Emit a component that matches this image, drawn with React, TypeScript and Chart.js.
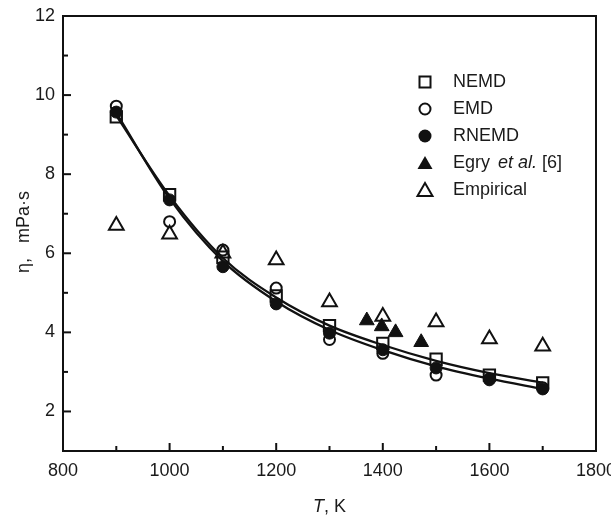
import React, { useEffect, useRef } from 'react';
import { Chart, registerables } from 'chart.js';

Chart.register(...registerables);

// ---- data ----
const temps = [900, 1000, 1100, 1200, 1300, 1400, 1500, 1600, 1700];
const nemd = [9.45, 7.48, 5.9, 4.92, 4.17, 3.72, 3.32, 2.92, 2.72];
const emd = [9.72, 6.8, 6.08, 5.12, 3.82, 3.47, 2.92, 2.82, 2.6];
const rnemd = [9.57, 7.35, 5.66, 4.72, 3.98, 3.56, 3.1, 2.8, 2.57];
const fitUpper = [9.48, 7.45, 5.88, 4.88, 4.17, 3.68, 3.28, 2.97, 2.73];
const fitLower = [9.55, 7.38, 5.8, 4.78, 4.06, 3.55, 3.14, 2.83, 2.57];
const egryT = [1370, 1398, 1424, 1472];
const egry = [4.3, 4.15, 4.0, 3.75];
const empirical = [6.7, 6.48, 6.0, 5.83, 4.77, 4.4, 4.26, 3.83, 3.65];

const xMajor = [800, 1000, 1200, 1400, 1600, 1800];
const xMinor = [900, 1100, 1300, 1500, 1700];
const yMajor = [2, 4, 6, 8, 10, 12];
const yMinor = [3, 5, 7, 9, 11];

const legendLabels = ['NEMD', 'EMD', 'RNEMD', 'Egry', 'Empirical'];
const xTitle = ['T', ', K'];
const yTitle = 'η,   mPa·s';

const FONT = '"Liberation Sans", Arial, sans-serif';
const INK = '#111';
const TEXT = '#1a1a1a';

const pts = (xs: number[], ys: number[]) => xs.map((x, i) => ({ x, y: ys[i] }));

const decorPlugin = {
  id: 'decor',
  afterDatasetsDraw(chart: any) {
    const { ctx, chartArea: a, scales } = chart;
    const xs = scales.x;
    const ys = scales.y;
    ctx.save();
    // frame
    ctx.strokeStyle = INK;
    ctx.lineWidth = 2;
    ctx.strokeRect(a.left, a.top, a.right - a.left, a.bottom - a.top);
    // inward ticks
    const tick = (x1: number, y1: number, x2: number, y2: number) => {
      ctx.beginPath();
      ctx.moveTo(x1, y1);
      ctx.lineTo(x2, y2);
      ctx.stroke();
    };
    ctx.lineWidth = 2;
    xMajor.forEach((v) => { const p = xs.getPixelForValue(v); tick(p, a.bottom, p, a.bottom - 8); });
    xMinor.forEach((v) => { const p = xs.getPixelForValue(v); tick(p, a.bottom, p, a.bottom - 5); });
    yMajor.forEach((v) => { const p = ys.getPixelForValue(v); tick(a.left, p, a.left + 8, p); });
    yMinor.forEach((v) => { const p = ys.getPixelForValue(v); tick(a.left, p, a.left + 5, p); });

    // legend
    const lx = 425;
    const rows = [82, 109, 136, 163, 190];
    ctx.lineWidth = 2;
    ctx.strokeStyle = INK;
    ctx.fillStyle = INK;
    ctx.strokeRect(lx - 5.5, rows[0] - 5.5, 11, 11);
    ctx.beginPath(); ctx.arc(lx, rows[1], 5.5, 0, Math.PI * 2); ctx.stroke();
    ctx.beginPath(); ctx.arc(lx, rows[2], 6.5, 0, Math.PI * 2); ctx.fill();
    const tri = (cy: number) => {
      ctx.beginPath();
      ctx.moveTo(lx, cy - 7);
      ctx.lineTo(lx + 7.5, cy + 6);
      ctx.lineTo(lx - 7.5, cy + 6);
      ctx.closePath();
    };
    tri(rows[3]); ctx.fill();
    tri(rows[4]); ctx.stroke();

    ctx.font = `18px ${FONT}`;
    ctx.fillStyle = TEXT;
    ctx.textBaseline = 'middle';
    ctx.textAlign = 'left';
    const tx = 453;
    ctx.fillText(legendLabels[0], tx, rows[0]);
    ctx.fillText(legendLabels[1], tx, rows[1]);
    ctx.fillText(legendLabels[2], tx, rows[2]);
    ctx.fillText(legendLabels[3], tx, rows[3]);
    let ex = tx + ctx.measureText(legendLabels[3]).width + 8;
    ctx.font = `italic 18px ${FONT}`;
    ctx.fillText('et al.', ex, rows[3]);
    ex += ctx.measureText('et al.').width + 5;
    ctx.font = `18px ${FONT}`;
    ctx.fillText('[6]', ex, rows[3]);
    ctx.fillText(legendLabels[4], tx, rows[4]);

    // x title
    ctx.textBaseline = 'alphabetic';
    ctx.font = `italic 18px ${FONT}`;
    const w1 = ctx.measureText(xTitle[0]).width;
    ctx.font = `18px ${FONT}`;
    const w2 = ctx.measureText(xTitle[1]).width;
    const cx = (a.left + a.right) / 2;
    const sx = cx - (w1 + w2) / 2;
    ctx.font = `italic 18px ${FONT}`;
    ctx.fillText(xTitle[0], sx, 512);
    ctx.font = `18px ${FONT}`;
    ctx.fillText(xTitle[1], sx + w1, 512);

    // y title
    ctx.save();
    ctx.translate(24, 232);
    ctx.rotate(-Math.PI / 2);
    ctx.textAlign = 'center';
    ctx.textBaseline = 'middle';
    ctx.fillText(yTitle, 0, 0);
    ctx.restore();

    ctx.restore();
  },
};

export default function App() {
  const ref = useRef<HTMLCanvasElement | null>(null);

  useEffect(() => {
    if (!ref.current) return;
    Chart.defaults.font.family = FONT;
    const open = 'rgba(0,0,0,0)';
    const chart = new Chart(ref.current, {
      type: 'scatter',
      data: {
        datasets: [
          {
            label: 'RNEMD',
            data: pts(temps, rnemd),
            pointStyle: 'circle',
            pointRadius: 6,
            backgroundColor: INK,
            borderColor: INK,
            borderWidth: 1,
          },
          {
            label: 'NEMD',
            data: pts(temps, nemd),
            pointStyle: 'rect',
            pointRadius: 8,
            backgroundColor: open,
            borderColor: INK,
            borderWidth: 2,
          },
          {
            label: 'EMD',
            data: pts(temps, emd),
            pointStyle: 'circle',
            pointRadius: 5.5,
            backgroundColor: open,
            borderColor: INK,
            borderWidth: 2,
          },
          {
            label: 'Egry et al. [6]',
            data: pts(egryT, egry),
            pointStyle: 'triangle',
            pointRadius: 8.5,
            backgroundColor: INK,
            borderColor: INK,
            borderWidth: 1,
          },
          {
            label: 'Empirical',
            data: pts(temps, empirical),
            pointStyle: 'triangle',
            pointRadius: 8.5,
            backgroundColor: open,
            borderColor: INK,
            borderWidth: 2,
          },
          {
            label: 'fit upper',
            data: pts(temps, fitUpper),
            showLine: true,
            pointRadius: 0,
            borderColor: INK,
            borderWidth: 2.3,
            cubicInterpolationMode: 'monotone',
          },
          {
            label: 'fit lower',
            data: pts(temps, fitLower),
            showLine: true,
            pointRadius: 0,
            borderColor: INK,
            borderWidth: 2.3,
            cubicInterpolationMode: 'monotone',
          },
        ] as any,
      },
      options: {
        responsive: false,
        animation: false,
        events: [],
        layout: { padding: { top: 16, right: 15, left: 0, bottom: 0 } },
        plugins: { legend: { display: false }, tooltip: { enabled: false } },
        scales: {
          x: {
            type: 'linear',
            min: 800,
            max: 1800,
            grid: { display: false, drawTicks: false },
            border: { display: false },
            afterBuildTicks: (s: any) => { s.ticks = xMajor.map((v) => ({ value: v })); },
            afterFit: (s: any) => { s.height = 67; s.paddingLeft = 0; s.paddingRight = 0; },
            ticks: {
              color: TEXT,
              font: { size: 18, family: FONT },
              padding: 9,
              maxRotation: 0,
              autoSkip: false,
              callback: (v: any) => String(v),
            },
          },
          y: {
            type: 'linear',
            min: 1,
            max: 12,
            grid: { display: false, drawTicks: false },
            border: { display: false },
            afterBuildTicks: (s: any) => { s.ticks = yMajor.map((v) => ({ value: v })); },
            afterFit: (s: any) => { s.width = 63; s.paddingTop = 0; s.paddingBottom = 0; },
            ticks: {
              color: TEXT,
              font: { size: 18, family: FONT },
              padding: 8,
              autoSkip: false,
              callback: (v: any) => String(v),
            },
          },
        },
      },
      plugins: [decorPlugin],
    } as any);
    return () => chart.destroy();
  }, []);

  return (
    <div style={{ position: 'fixed', left: 0, top: 0, width: 611, height: 518, background: '#fff' }}>
      <canvas ref={ref} width={611} height={518} style={{ display: 'block' }} />
    </div>
  );
}
